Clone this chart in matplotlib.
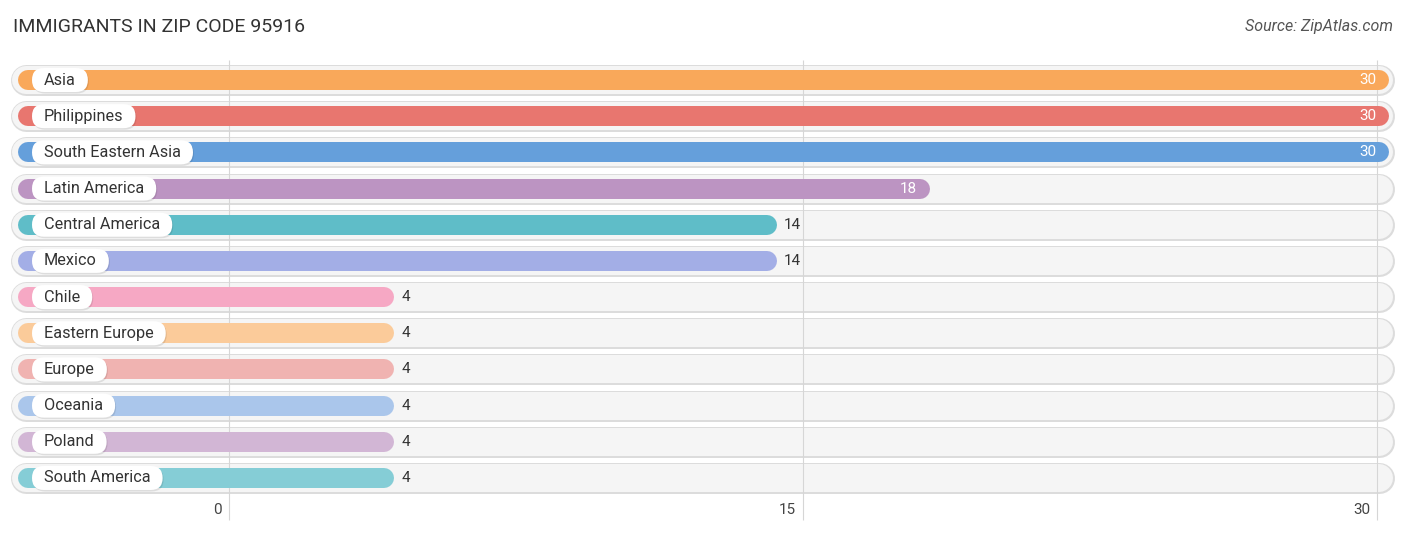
import matplotlib
matplotlib.use("Agg")
import matplotlib.pyplot as plt
from matplotlib.patches import FancyBboxPatch
from matplotlib.transforms import IdentityTransform

plt.rcParams['font.family'] = ['Roboto', 'DejaVu Sans']

# data
categories = ["Asia", "Philippines", "South Eastern Asia", "Latin America",
              "Central America", "Mexico", "Chile", "Eastern Europe",
              "Europe", "Oceania", "Poland", "South America"]
values = [30, 30, 30, 18, 14, 14, 4, 4, 4, 4, 4, 4]
colors = ["#f9a85a", "#e8766f", "#659fdb", "#bc94c2", "#5fbdc8", "#a3aee6",
          "#f6a8c4", "#fbcb9a", "#f0b3b1", "#aac6eb", "#d2b6d5", "#85cdd6"]
xticks = [0, 15, 30]
xticklabels = ["0", "15", "30"]

W, H, DPI = 1406, 534, 100
fig = plt.figure(figsize=(W / DPI, H / DPI), dpi=DPI)
ax = fig.add_axes([0, 0, 1, 1])

# pixel layout: value 0 at x=229px, 30 at x=1377px; first row at y=80px
ppu = (1377 - 229) / 30.0
row_h = 36.18
ax.set_xlim(-229 / ppu, (W - 229) / ppu)
ax.set_ylim((H - 80) / row_h, -80 / row_h)
ax.axis('off')


def px(p):
    # x pixel -> data
    return (p - 229) / ppu


def py(p):
    return (p - 80) / row_h


lw = 0.72  # points per pixel
bar_start = px(28)
for i, (cat, v, c) in enumerate(zip(categories, values, colors)):
    # track
    ax.plot([px(26), px(1379)], [i, i], lw=31 * lw, color="#dcdcdc",
            solid_capstyle='round', zorder=1)
    ax.plot([px(26), px(1379)], [i, i], lw=28 * lw, color="#f5f5f5",
            solid_capstyle='round', zorder=1.1)
    # bar
    ax.plot([bar_start, v + 2 / ppu], [i, i], lw=20 * lw, color=c,
            solid_capstyle='round', zorder=3)
    # value label
    if v >= 18:
        ax.text(v - 1 / ppu, i, str(v), ha='right', va='center',
                fontsize=11, color='white', zorder=5)
    else:
        ax.text(v + 19 / ppu, i, str(v), ha='left', va='center',
                fontsize=11, color='#333333', zorder=5)

# gridlines
ax.vlines(xticks, py(60), py(520), color="#d6d6d6", lw=0.8, zorder=2)
for t, lab in zip(xticks, xticklabels):
    ax.text(t - 7 / ppu, py(510), lab, ha='right', va='center',
            fontsize=11, color='#444444')

# category label pills
fig.canvas.draw()
renderer = fig.canvas.get_renderer()
for i, cat in enumerate(categories):
    t = ax.text(px(44), i, cat, ha='left', va='center', fontsize=11.7,
                color='#333333', zorder=7)
    bb = t.get_window_extent(renderer)
    yc = ax.transData.transform((0, i))[1]
    x0 = 32
    w = bb.x1 + 12 - x0
    h = 24
    shadow = FancyBboxPatch((x0 + 1, yc - h / 2 - 1.5), w, h,
                            boxstyle="round,pad=0,rounding_size=12",
                            transform=IdentityTransform(), fc="#00000018",
                            ec='none', zorder=5.5)
    pill = FancyBboxPatch((x0, yc - h / 2), w, h,
                          boxstyle="round,pad=0,rounding_size=12",
                          transform=IdentityTransform(), fc="white",
                          ec='none', zorder=6)
    ax.add_patch(shadow)
    ax.add_patch(pill)

fig.text(13 / W, 1 - 27 / H, "IMMIGRANTS IN ZIP CODE 95916", ha='left',
         va='center', fontsize=14, color='#333333')
fig.text(1393 / W, 1 - 27 / H, "Source: ZipAtlas.com", ha='right',
         va='center', fontsize=11.5, color='#555555', style='italic')

fig.savefig("out.png", dpi=DPI)
